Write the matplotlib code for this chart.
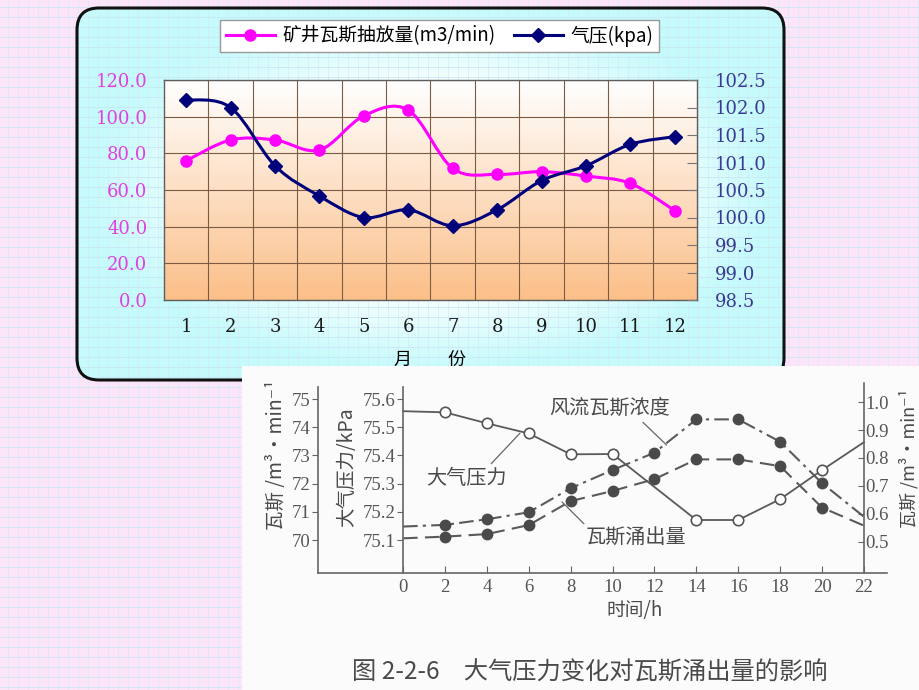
import numpy as np
import matplotlib
matplotlib.use("Agg")
from matplotlib import pyplot as plt
from matplotlib.patches import FancyBboxPatch, PathPatch
from matplotlib.path import Path
from matplotlib.lines import Line2D
from matplotlib.colors import to_rgb

plt.rcParams['font.family'] = ['Noto Sans CJK SC', 'DejaVu Sans']

# ---------------- data: upper chart (monthly) ----------------
months = np.arange(1, 13)
gas_drainage = [76.0, 87.3, 87.3, 81.8, 100.5, 103.6, 71.8, 68.5, 70.0, 67.6, 63.6, 48.7]
air_pressure = [102.14, 102.0, 100.94, 100.39, 100.0, 100.14, 99.85, 100.14, 100.67, 100.94, 101.33, 101.47]
left_ticks = [0, 20, 40, 60, 80, 100, 120]
right_ticks = [98.5, 99.0, 99.5, 100.0, 100.5, 101.0, 101.5, 102.0, 102.5]
legend_labels = ["矿井瓦斯抽放量(m3/min)", "气压(kpa)"]

# ---------------- data: lower chart (hourly, scanned figure) ----------------
hours = [0, 2, 4, 6, 8, 10, 12, 14, 16, 18, 20, 22]
conc = [0.555, 0.561, 0.581, 0.606, 0.692, 0.757, 0.819, 0.938, 0.938, 0.858, 0.710, 0.590]
emission = [70.06, 70.12, 70.21, 70.53, 71.38, 71.74, 72.16, 72.86, 72.86, 72.62, 71.15, 70.51]
p_hours = [0, 2, 4, 6, 8, 10, 14, 16, 18, 20, 22]
pressure = [75.557, 75.553, 75.514, 75.478, 75.404, 75.405, 75.171, 75.171, 75.245, 75.348, 75.447]
hour_ticks = list(range(0, 23, 2))
em_ticks = [70, 71, 72, 73, 74, 75]
p_ticks = [75.1, 75.2, 75.3, 75.4, 75.5, 75.6]
c_ticks = [0.5, 0.6, 0.7, 0.8, 0.9, 1.0]

W, H = 920, 690
PINK = '#fe00fe'
NAVY = '#00007a'
GRAY = '#555555'


def rect(x0, y0, x1, y1):
    return [x0 / W, 1 - y1 / H, (x1 - x0) / W, (y1 - y0) / H]


def smooth_path(xs, ys):
    # Catmull-Rom style bezier through the points (like Excel's smoothed line)
    pts = np.column_stack([xs, ys]).astype(float)
    n = len(pts)
    verts = [pts[0]]
    codes = [Path.MOVETO]
    for i in range(n - 1):
        p0 = pts[max(i - 1, 0)]
        p1 = pts[i]
        p2 = pts[i + 1]
        p3 = pts[min(i + 2, n - 1)]
        verts += [p1 + (p2 - p0) / 6, p2 - (p3 - p1) / 6, p2]
        codes += [Path.CURVE4] * 3
    return Path(verts, codes)


fig = plt.figure(figsize=(W / 100, H / 100), dpi=100)
fig.patch.set_facecolor('#fde5f9')

# ---------------- slide background with grid paper ----------------
bg = fig.add_axes([0, 0, 1, 1])
bg.set_xlim(0, W)
bg.set_ylim(H, 0)
bg.axis('off')
bg.set_zorder(0)
bg.vlines(np.arange(8, W, 10), 0, H, color='#d6e9f8', lw=0.5)
bg.hlines(np.arange(7, H, 10), 0, W, color='#c8e5f5', lw=0.55)

box = FancyBboxPatch((77, 8), 707, 372, boxstyle='round,pad=0,rounding_size=22',
                     transform=bg.transData)
gx, gy = np.meshgrid(np.linspace(77, 784, 300), np.linspace(8, 380, 160))
rr = np.sqrt(((gx - 430) / 360) ** 2 + ((gy - 190) / 190) ** 2)
t = np.clip((rr - 0.5) / 0.45, 0, 1)[..., None]
cyan = np.array(to_rgb('#c6fbfb'))
img = np.ones(3) * (1 - t) + cyan * t
im = bg.imshow(img, extent=(77, 784, 380, 8), origin='upper', zorder=1,
               interpolation='bilinear', aspect='auto')
im.set_clip_path(box)
bg.add_patch(FancyBboxPatch((77, 8), 707, 372, boxstyle='round,pad=0,rounding_size=22',
                            fill=False, ec='#111111', lw=2.2, zorder=2))

# ---------------- upper chart ----------------
ax1 = fig.add_axes(rect(164, 80, 697, 300))
ax1.set_zorder(2)
ax1.set_xlim(0.5, 12.5)
ax1.set_ylim(0, 120)
shade = np.linspace(0, 1, 256)[:, None, None]
ax1.imshow(np.ones(3) * (1 - shade) + np.array(to_rgb('#fbbf89')) * shade,
           extent=(0.5, 12.5, 0, 120), origin='upper', aspect='auto', zorder=0)
ax1.set_xticks(months)
ax1.set_xticks(months[:-1] + 0.5, minor=True)
ax1.set_yticks(left_ticks)
ax1.set_yticklabels(["%.1f" % v for v in left_ticks])
ax1.grid(which='minor', axis='x', color='#7a5c44', lw=0.8)
ax1.grid(which='major', axis='y', color='#7a5c44', lw=0.8)
ax1.set_axisbelow(True)
ax1.tick_params(which='both', length=0)
ax1.tick_params(axis='x', pad=13, labelsize=13, labelcolor='#1a1a1a', labelfontfamily='DejaVu Serif')
ax1.tick_params(axis='y', pad=12, labelsize=13, labelcolor='#e040e0', labelfontfamily='DejaVu Serif')
for s in ax1.spines.values():
    s.set_color('#5e5e5e')
    s.set_linewidth(1.0)
ax1.set_xlabel("月　　份", fontsize=13, labelpad=11)

ax1.add_patch(PathPatch(smooth_path(months, gas_drainage), fill=False, ec=PINK, lw=2.2, zorder=3))
ax1.plot(months, gas_drainage, ls='none', marker='o', ms=8, color=PINK, zorder=4)

ax1r = ax1.twinx()
ax1r.set_ylim(98.5, 102.5)
ax1r.set_yticks(right_ticks)
ax1r.set_yticklabels(["%.1f" % v for v in right_ticks])
ax1r.tick_params(axis='y', direction='in', length=7, color='#777777', pad=13,
                 labelsize=13, labelcolor='#3a3a94', labelfontfamily='DejaVu Serif')
for s in ax1r.spines.values():
    s.set_visible(False)
ax1r.add_patch(PathPatch(smooth_path(months, air_pressure), fill=False, ec=NAVY, lw=2.2, zorder=3))
ax1r.plot(months, air_pressure, ls='none', marker='D', ms=7, color=NAVY, zorder=4)

handles = [Line2D([], [], color=PINK, lw=2.2, marker='o', ms=8),
           Line2D([], [], color=NAVY, lw=2.2, marker='D', ms=7)]
fig.legend(handles, legend_labels, loc='center', bbox_to_anchor=(439.5 / W, 1 - 36 / H),
           ncol=2, frameon=True, fancybox=False, edgecolor='#9a9a9a', facecolor='white',
           framealpha=1, fontsize=13.5, handlelength=2.6, columnspacing=1.0,
           handletextpad=0.4, borderpad=0.3)

# ---------------- scanned figure panel ----------------
scan = fig.add_axes(rect(242, 366, 920, 690))
scan.set_zorder(5)
scan.set_xlim(242, 920)
scan.set_ylim(690, 366)
scan.set_facecolor('#fbfbfb')
for s in scan.spines.values():
    s.set_visible(False)
scan.set_xticks([])
scan.set_yticks([])

txt = dict(color='#4a4a4a', family=['Noto Sans CJK SC', 'DejaVu Sans'])
scan.text(277, 455, "瓦斯 /m³·min⁻¹", rotation=90, ha='center', va='center', fontsize=14, **txt)
scan.text(347, 467, "大气压力/kPa", rotation=90, ha='center', va='center', fontsize=14, **txt)
scan.text(909, 458, "瓦斯 /m³·min⁻¹", rotation=90, ha='center', va='center', fontsize=13, **txt)
scan.text(635, 610, "时间/h", ha='center', va='center', fontsize=13.5, **txt)
scan.text(352, 673, "图 2-2-6　大气压力变化对瓦斯涌出量的影响", ha='left', va='center',
          fontsize=17.5, **txt)

XL = (-4.06, 23.1)
host = fig.add_axes(rect(318, 383, 887, 573))
host.set_zorder(6)
host.patch.set_visible(False)
host.set_xlim(*XL)
host.set_ylim(68.83, 75.57)
host.spines['top'].set_visible(False)
host.spines['right'].set_visible(False)
host.spines['left'].set_bounds(68.83, 75.43)
for s in ['left', 'bottom']:
    host.spines[s].set_color('#666666')
    host.spines[s].set_linewidth(1.2)
host.set_xticks(hour_ticks)
host.set_yticks(em_ticks)
host.tick_params(axis='x', direction='in', length=5, color='#666666', pad=4,
                 labelsize=13.5, labelcolor=GRAY, labelfontfamily='Liberation Serif')
host.tick_params(axis='y', direction='out', length=4, color='#666666', pad=1.5,
                 labelsize=13.5, labelcolor=GRAY, labelfontfamily='Liberation Serif')

ax_p = fig.add_axes(rect(318, 383, 887, 573), sharex=host)
ax_p.set_zorder(6)
ax_p.patch.set_visible(False)
ax_p.set_ylim(74.983, 75.657)
for s in ['top', 'right', 'bottom']:
    ax_p.spines[s].set_visible(False)
ax_p.spines['left'].set_position(('data', 0))
ax_p.spines['left'].set_bounds(74.983, 75.643)
ax_p.spines['left'].set_color('#666666')
ax_p.spines['left'].set_linewidth(1.2)
ax_p.set_yticks(p_ticks)
ax_p.set_yticklabels(["%.1f" % v for v in p_ticks])
ax_p.tick_params(axis='x', bottom=False, labelbottom=False)
ax_p.tick_params(axis='y', direction='out', length=4, color='#666666', pad=1.5,
                 labelsize=13.5, labelcolor=GRAY, labelfontfamily='Liberation Serif')

ax_r = fig.add_axes(rect(318, 383, 887, 573), sharex=host)
ax_r.set_zorder(6)
ax_r.patch.set_visible(False)
ax_r.set_ylim(0.389, 1.068)
for s in ['top', 'left', 'bottom']:
    ax_r.spines[s].set_visible(False)
ax_r.spines['right'].set_position(('data', 22))
ax_r.spines['right'].set_color('#666666')
ax_r.spines['right'].set_linewidth(1.2)
ax_r.yaxis.tick_right()
ax_r.set_yticks(c_ticks)
ax_r.set_yticklabels(["%.1f" % v for v in c_ticks])
ax_r.tick_params(axis='x', bottom=False, labelbottom=False)
ax_r.tick_params(axis='y', direction='in', length=4, color='#666666', pad=1,
                 labelsize=13.5, labelcolor=GRAY, labelfontfamily='Liberation Serif')

# series
ax_p.plot(p_hours, pressure, color='#5a5a5a', lw=1.3, zorder=2)
ax_p.plot(p_hours[1:-1], pressure[1:-1], ls='none', marker='o', ms=7.5,
          mfc='white', mec='#555555', mew=1.2, zorder=3)
ax_r.plot(hours, conc, color='#5a5a5a', lw=1.5, ls=(0, (7, 2.5, 1.5, 2.5)), zorder=2)
ax_r.plot(hours[1:-1], conc[1:-1], ls='none', marker='o', ms=7.5, color='#4a4a4a', zorder=3)
host.plot(hours, emission, color='#5a5a5a', lw=1.5, ls=(0, (7, 3.5)), zorder=2)
host.plot(hours[1:-1], emission[1:-1], ls='none', marker='o', ms=7.5, color='#4a4a4a', zorder=3)

ann = dict(fontsize=14.5, ha='center', va='center', **txt)
host.annotate("风流瓦斯浓度", xy=(12.58, 73.37), xytext=(9.88, 74.68),
              arrowprops=dict(arrowstyle='-', color='#666666', lw=0.9, relpos=(0.74, 0),
                              shrinkA=1, shrinkB=0), **ann)
host.annotate("大气压力", xy=(5.58, 73.79), xytext=(3.0, 72.2),
              arrowprops=dict(arrowstyle='-', color='#666666', lw=0.9, relpos=(0.77, 1),
                              shrinkA=1, shrinkB=0), **ann)
host.annotate("瓦斯涌出量", xy=(7.59, 71.35), xytext=(11.12, 70.07),
              arrowprops=dict(arrowstyle='-', color='#666666', lw=0.9, relpos=(0.02, 1),
                              shrinkA=1, shrinkB=0), **ann)

plt.savefig("out.png", dpi=100)
